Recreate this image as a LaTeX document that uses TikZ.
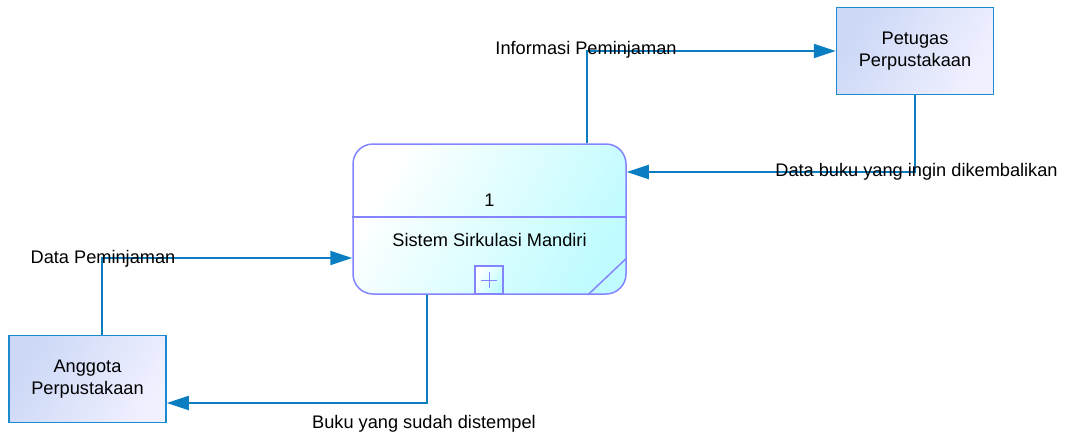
\documentclass[tikz,border=0pt]{standalone}
\usepackage{fontspec}
\setmainfont{Liberation Sans}
\usetikzlibrary{arrows.meta}
\definecolor{flowblue}{HTML}{0B7DC1}
\definecolor{entblue}{HTML}{1C8AD0}
\definecolor{entA}{HTML}{CCD8F6}
\definecolor{entB}{HTML}{F0F0FF}
\definecolor{procline}{HTML}{8484FF}
\definecolor{procB}{HTML}{C0FCFF}
\begin{document}
\begin{tikzpicture}[x=1pt,y=-1pt,font=\fontsize{18.2}{22}\selectfont,
	flow/.style={draw=flowblue,line width=2pt,-{Triangle[length=22pt,width=14pt]}},
	entity/.style={draw=entblue,line width=1.5pt,left color=entA,right color=entB,shading angle=60,minimum width=157pt,minimum height=87pt,align=center,inner sep=0pt},
	process/.style={draw=procline,line width=1.5pt,rounded corners=20pt,left color=white,right color=procB,shading angle=60,minimum width=273pt,minimum height=150pt},
	flowlabel/.style={inner sep=0pt,text height=13pt,text depth=4pt}]
		\useasboundingbox (0,0) rectangle (1065,437);
		\node[process] (proc) at (489.5,219) {};
		\draw[procline,line width=1.5pt] (proc.west |- 0,217) -- (proc.east |- 0,217);
		\node (num) at (489.5,200) {1};
		\node (procname) at (489.5,240) {Sistem Sirkulasi Mandiri};
		\node[draw=procline,line width=1.5pt,minimum size=28pt,inner sep=0pt,left color=white,right color=procB,shading angle=60] (sub) at (489,280) {};
		\draw[procline,line width=1pt] (sub.center) +(-8,0) -- +(8,0) (sub.center) +(0,-8) -- +(0,8);
		\draw[procline,line width=1.5pt] (proc.south -| 588,0) -- (proc.east |- 0,258);
		
		\node[entity] (petugas) at (915,51) {Petugas\\Perpustakaan};
		\node[entity] (anggota) at (87.5,379) {Anggota\\Perpustakaan};
		
		\coordinate (c1) at (587,50);
		\coordinate (c2) at (915,172);
		\coordinate (c3) at (102,258);
		\coordinate (c4) at (427,403);
		\draw[flow] (proc.north -| c1) |- (petugas.west);
		\draw[flow] (petugas.south) |- (proc.east |- c2);
		\draw[flow] (anggota.north -| c3) |- (proc.west |- c3);
		\draw[flow] (proc.south -| c4) |- (anggota.east |- c4);
		
		\node[flowlabel] (info) at (586,50) {Informasi Peminjaman};
		\node[flowlabel] (databuku) at (916.5,172) {Data buku yang ingin dikembalikan};
		\node[flowlabel] (datapinjam) at (103,259) {Data Peminjaman};
		\node[flowlabel] (buku) at (424,424) {Buku yang sudah distempel};
\end{tikzpicture}
\end{document}
